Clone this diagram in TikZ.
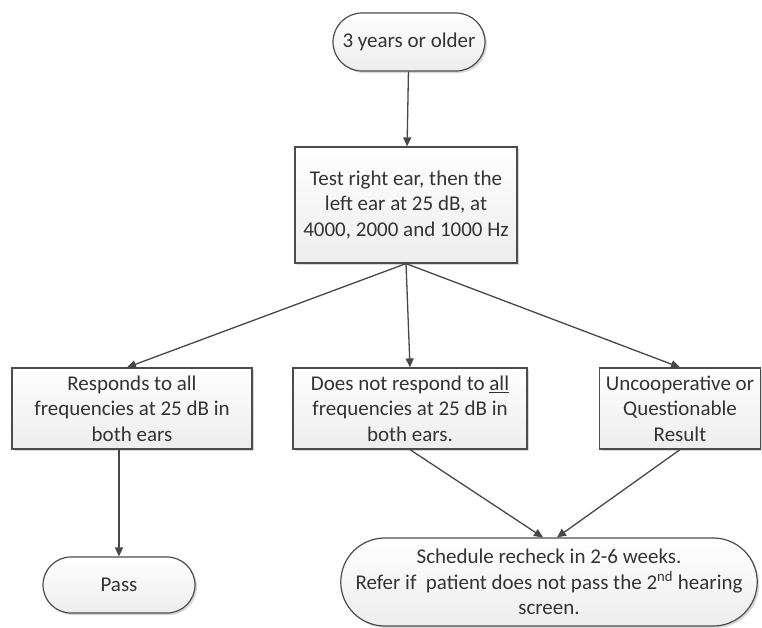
\documentclass[tikz,border=0pt]{standalone}
\usepackage{fontspec}
\setmainfont{Carlito}
\usetikzlibrary{arrows.meta,shapes.misc,shadows}

\begin{document}
\begin{tikzpicture}[x=1pt,y=-1pt,
	font=\fontsize{21}{25.5}\selectfont,
	every node/.style={text=black!80,align=center,inner sep=0pt},
	boxstyle/.style={draw=black!70,line width=1.2pt,top color=white,bottom color=black!7,
		drop shadow={shadow xshift=2pt,shadow yshift=-2pt,fill=black!30}},
	termstyle/.style={boxstyle,rounded rectangle},
	link/.style={draw=black!72,line width=1.3pt,-{Triangle[length=9pt,width=8pt]}}]
	\useasboundingbox (0,0) rectangle (762,627);
	\node[termstyle,minimum width=152pt,minimum height=58pt] (start) at (409,42) {3 years or older};
	\node[boxstyle,minimum width=222pt,minimum height=116pt] (test) at (406,205)
		{Test right ear, then the\\left ear at 25 dB, at\\4000, 2000 and 1000 Hz};
	\node[boxstyle,minimum width=240pt,minimum height=81pt] (resp) at (132,408.5)
		{Responds to all\\frequencies at 25 dB in\\both ears};
	\node[boxstyle,minimum width=234pt,minimum height=81pt] (noresp) at (410,408.5)
		{Does not respond to \underline{all}\\frequencies at 25 dB in\\both ears.};
	\node[boxstyle,minimum width=161pt,minimum height=81pt] (uncoop) at (680,408.5)
		{Uncooperative or\\Questionable\\Result};
	\node[termstyle,minimum width=152pt,minimum height=56pt] (pass) at (119,585) {Pass};
	\node[termstyle,minimum width=392pt,minimum height=88pt] (recheck) at (549,582)
		{Schedule recheck in 2-6 weeks.\\Refer if\ \ patient does not pass the 2\textsuperscript{nd} hearing\\screen.};
	\draw[link] (start) -- (test);
	\draw[link] (test.south) -- ([xshift=-5pt]resp.north);
	\draw[link] (test.south) -- (noresp.north);
	\draw[link] (test.south) -- (uncoop.north);
	\draw[link] (pass.north |- resp.south) -- (pass.north);
	\draw[link] (noresp.south) -- ([xshift=-6pt]recheck.north);
	\draw[link] (uncoop.south) -- ([xshift=8pt]recheck.north);
\end{tikzpicture}
\end{document}
